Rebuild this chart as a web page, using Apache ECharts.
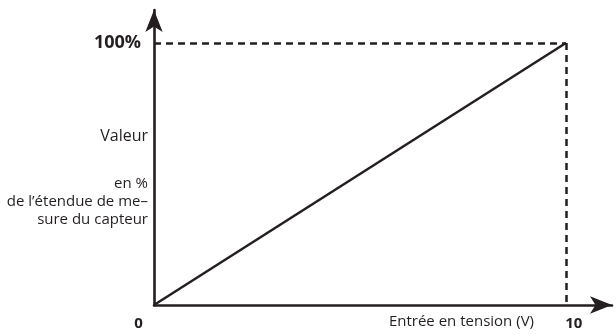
<!DOCTYPE html>
<html>
<head>
<meta charset="utf-8">
<script src="https://cdn.jsdelivr.net/npm/echarts@6/dist/echarts.min.js"></script>
<style>
  html, body { margin: 0; padding: 0; background: #fff; }
  #chart { width: 616px; height: 335px; }
</style>
</head>
<body>
<div id="chart"></div>
<script>
// Linear transfer: voltage input (V) to value in % of sensor range
const voltage = [0, 10];
const percent = [0, 100];
const xTicks = [0, 10];
const yTicks = [100];

const INK = '#231f20';
const FONT = '"Open Sans", "Noto Sans", sans-serif';

const chart = echarts.init(document.getElementById('chart'), null, { renderer: 'canvas' });

chart.setOption({
  animation: false,
  backgroundColor: '#ffffff',
  textStyle: { fontFamily: FONT, color: INK },
  grid: { left: 154, right: 4, top: 10, bottom: 30, containLabel: false, outerBoundsMode: 'none' },
  xAxis: {
    type: 'value',
    min: 0,
    max: 11.12,
    name: 'Entrée en tension (V)',
    nameLocation: 'end',
    nameGap: -78,
    nameMoveOverlap: false,
    nameTextStyle: {
      fontFamily: FONT, fontSize: 15, color: INK,
      align: 'right', verticalAlign: 'top', padding: [9, 0, 0, 0]
    },
    axisLine: {
      show: true,
      symbol: ['none', 'arrow'],
      symbolSize: [13, 22],
      lineStyle: { color: INK, width: 2.6 }
    },
    axisTick: { show: false },
    splitLine: { show: false },
    axisLabel: {
      customValues: xTicks,
      margin: 11,
      fontFamily: FONT,
      fontSize: 15,
      fontWeight: 'bold',
      color: INK,
      formatter: v => (v === 0 ? '{z|0}' : '{t|' + v + '}'),
      rich: {
        z: { fontFamily: FONT, fontSize: 15, fontWeight: 'bold', color: INK, padding: [0, 31, 0, 0] },
        t: { fontFamily: FONT, fontSize: 15, fontWeight: 'bold', color: INK, padding: [0, 0, 0, 16] }
      }
    }
  },
  yAxis: {
    type: 'value',
    min: 0,
    max: 112.6,
    name: '{a|Valeur}\n{g| }\n{b|en %}\n{b|de l\u2019étendue de me\u2013}\n{b|sure du capteur}',
    nameLocation: 'middle',
    nameRotate: 0,
    nameGap: 6,
    nameMoveOverlap: false,
    nameTextStyle: {
      align: 'right',
      verticalAlign: 'middle',
      padding: [41, 0, 0, 0],
      rich: {
        a: { fontFamily: FONT, fontSize: 16, color: INK, lineHeight: 18, align: 'right' },
        g: { fontSize: 10, lineHeight: 29 },
        b: { fontFamily: FONT, fontSize: 15, color: INK, lineHeight: 18, align: 'right' }
      }
    },
    axisLine: {
      show: true,
      symbol: ['none', 'arrow'],
      symbolSize: [13, 22],
      lineStyle: { color: INK, width: 2.6 }
    },
    axisTick: { show: false },
    splitLine: { show: false },
    axisLabel: {
      customValues: yTicks,
      margin: 13,
      fontFamily: FONT,
      fontSize: 18,
      fontWeight: 'bold',
      color: INK,
      formatter: v => v + '%'
    }
  },
  series: [{
    type: 'line',
    data: voltage.map((v, i) => [v, percent[i]]),
    symbol: 'none',
    lineStyle: { color: INK, width: 2.5 },
    markLine: {
      silent: true,
      symbol: 'none',
      label: { show: false },
      lineStyle: { color: INK, width: 2.5, type: [7, 5] },
      data: [
        [{ coord: [voltage[0], percent[1]] }, { coord: [voltage[1], percent[1]] }],
        [{ coord: [voltage[1], percent[1]] }, { coord: [voltage[1], percent[0]] }]
      ]
    }
  }]
});
</script>
</body>
</html>
